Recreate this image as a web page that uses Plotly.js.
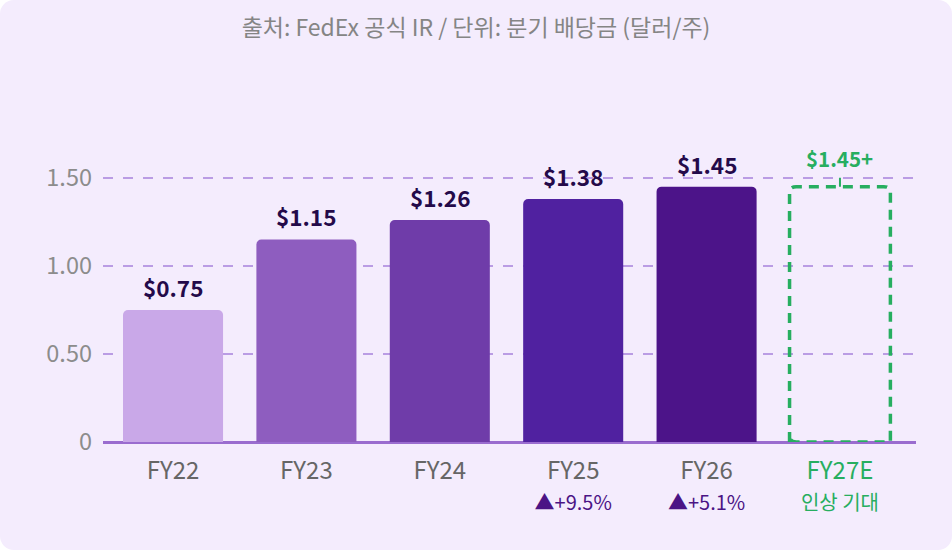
<!DOCTYPE html>
<html>
<head>
<meta charset="utf-8">
<script src="https://cdn.plot.ly/plotly-3.0.1.min.js"></script>
<style>
  html, body { margin: 0; padding: 0; background: #ffffff; }
  #chart { width: 952px; height: 550px; border-radius: 14px; overflow: hidden; }
</style>
</head>
<body>
<div id="chart"></div>
<script>
// FedEx quarterly dividend per share
var years = ['FY22', 'FY23', 'FY24', 'FY25', 'FY26'];
var dividends = [0.75, 1.15, 1.26, 1.38, 1.45];
var barColors = ['#C9A8E8', '#8E5DBF', '#6F3CA9', '#5021A0', '#4C1489'];
var growth = ['', '', '', '+9.5%', '+5.1%'];

var estYear = 'FY27E';
var estValue = 1.45;
var estNote = '인상 기대';

var green = '#27AE60';
var purple = '#4B1485';

var cats = years.concat([estYear]);

var tickText = years.map(function (y, i) {
  if (!growth[i]) return y;
  return y + '<br><span style="color:' + purple + ';font-size:20px">▲' + growth[i] + '</span>';
});
tickText.push('<span style="color:' + green + '">' + estYear + '</span><br>' +
  '<span style="color:' + green + ';font-size:20px">' + estNote + '</span>');

var data = [{
  type: 'bar',
  x: years,
  y: dividends,
  marker: { color: barColors, cornerradius: 5, line: { width: 0 } },
  hoverinfo: 'skip'
}, {
  // invisible placeholder so the estimate category gets its slot
  type: 'bar',
  x: [estYear],
  y: [0],
  marker: { color: 'rgba(0,0,0,0)' },
  hoverinfo: 'skip',
  showlegend: false
}];

var annotations = years.map(function (y, i) {
  return {
    x: y, y: dividends[i], xref: 'x', yref: 'y',
    text: '<b>$' + dividends[i].toFixed(2) + '</b>',
    showarrow: false, yanchor: 'bottom', yshift: 5,
    font: { size: 22.5, color: '#240A4A' }
  };
});
annotations.push({
  x: estYear, y: estValue, xref: 'x', yref: 'y',
  text: '<b>$' + estValue.toFixed(2) + '+</b>',
  showarrow: false, yanchor: 'bottom', yshift: 12,
  font: { size: 20.5, color: green }
});

// dashed rounded box for the estimate, sized from the bar slot
var idx = cats.indexOf(estYear);
var half = 0.378, rx = 0.05, ry = 0.035;
var x0 = idx - half, x1 = idx + half, y1 = estValue;
var boxPath = 'M ' + x0 + ',' + 0 +
  ' L ' + x0 + ',' + (y1 - ry) +
  ' Q ' + x0 + ',' + y1 + ' ' + (x0 + rx) + ',' + y1 +
  ' L ' + (x1 - rx) + ',' + y1 +
  ' Q ' + x1 + ',' + y1 + ' ' + x1 + ',' + (y1 - ry) +
  ' L ' + x1 + ',' + ry +
  ' L ' + x1 + ',0 L ' + (x0 + rx) + ',0 Q ' + x0 + ',0 ' + x0 + ',' + ry + ' Z';

var layout = {
  width: 952,
  height: 550,
  paper_bgcolor: '#F4ECFD',
  plot_bgcolor: '#F4ECFD',
  margin: { l: 103, r: 36, t: 125, b: 108 },
  showlegend: false,
  barmode: 'overlay',
  bargap: 0.25,
  font: { family: '"Noto Sans CJK KR", "Noto Sans", sans-serif', color: '#666666' },
  title: {
    text: '출처: FedEx 공식 IR / 단위: 분기 배당금 (달러/주)',
    font: { size: 23, color: '#858585' },
    x: 0.5, xanchor: 'center', y: 0.95, yref: 'container', yanchor: 'middle'
  },
  xaxis: {
    type: 'category',
    categoryorder: 'array',
    categoryarray: cats,
    range: [-0.525, 5.57],
    tickvals: cats,
    ticktext: tickText,
    tickfont: { size: 24, color: '#666666' },
    ticklabelstandoff: 12,
    showgrid: false,
    zeroline: false,
    showline: false,
    ticks: '',
    fixedrange: true
  },
  yaxis: {
    range: [0, 1.8],
    tickvals: [0, 0.5, 1.0, 1.5],
    ticktext: ['0', '0.50', '1.00', '1.50'],
    tickfont: { size: 23.5, color: '#8C8C8C' },
    showgrid: true,
    gridcolor: '#BA9CE4',
    gridwidth: 2,
    griddash: '10px,10px',
    zeroline: true,
    zerolinecolor: '#9A6CCF',
    zerolinewidth: 3,
    ticks: '',
    ticklabelstandoff: 10,
    fixedrange: true
  },
  shapes: [{
    type: 'path', xref: 'x', yref: 'y', path: boxPath,
    line: { color: green, width: 3.5, dash: '10px,7px' },
    fillcolor: 'rgba(0,0,0,0)', layer: 'above'
  }, {
    type: 'line', xref: 'x', yref: 'y',
    x0: idx, x1: idx, y0: estValue, y1: 1.5,
    line: { color: green, width: 2 }
  }],
  annotations: annotations
};

Plotly.newPlot('chart', data, layout, { displayModeBar: false, staticPlot: true });
</script>
</body>
</html>
